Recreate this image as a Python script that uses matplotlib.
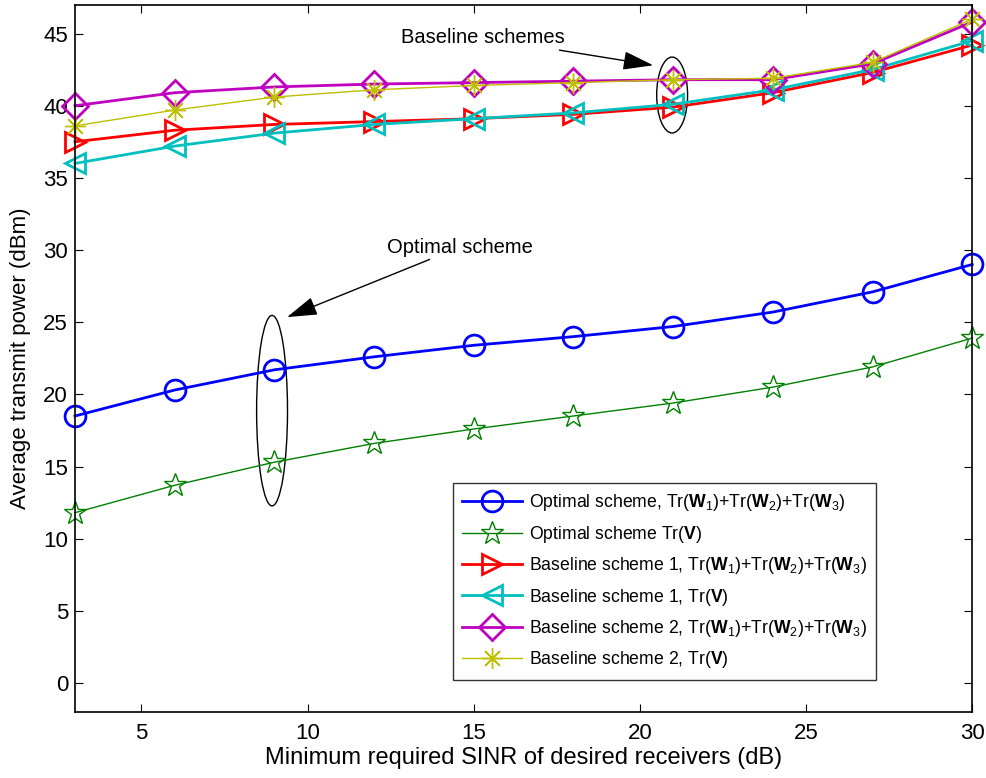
import matplotlib
matplotlib.use('Agg')
import matplotlib.pyplot as plt
from matplotlib.patches import Ellipse
import numpy as np

plt.rcParams['font.family'] = ['Liberation Sans', 'DejaVu Sans']
plt.rcParams['mathtext.fontset'] = 'custom'
plt.rcParams['mathtext.rm'] = 'Liberation Sans'
plt.rcParams['mathtext.it'] = 'Liberation Sans:italic'
plt.rcParams['mathtext.bf'] = 'Liberation Sans:bold'

# SINR targets (dB)
sinr = [3, 6, 9, 12, 15, 18, 21, 24, 27, 30]

# average transmit power (dBm)
opt_w = [18.5, 20.3, 21.7, 22.6, 23.4, 24.0, 24.7, 25.7, 27.1, 29.0]
opt_v = [11.8, 13.7, 15.3, 16.6, 17.6, 18.5, 19.4, 20.5, 21.9, 23.9]
base1_w = [37.5, 38.3, 38.7, 38.9, 39.1, 39.4, 39.9, 40.9, 42.3, 44.2]
base1_v = [36.0, 37.2, 38.1, 38.7, 39.1, 39.5, 40.1, 41.1, 42.5, 44.5]
base2_w = [40.0, 40.9, 41.3, 41.5, 41.6, 41.7, 41.8, 41.8, 42.9, 45.8]
base2_v = [38.6, 39.7, 40.6, 41.1, 41.4, 41.6, 41.8, 41.9, 43.0, 46.0]

sum_w = r'Tr($\mathbf{W}_1$)+Tr($\mathbf{W}_2$)+Tr($\mathbf{W}_3$)'
tr_v = r'Tr($\mathbf{V}$)'

fig = plt.figure(figsize=(9.87, 7.78), dpi=100)
ax = fig.add_axes([0.076, 0.085, 0.909, 0.909])

style = dict(mfc='none', clip_on=False)
ax.plot(sinr, opt_w, color='b', lw=2, marker='o', ms=15, mew=2,
        label='Optimal scheme, ' + sum_w, **style)
ax.plot(sinr, opt_v, color=(0, 0.5, 0), lw=1, marker='*', ms=17, mew=1,
        label='Optimal scheme ' + tr_v, **style)
ax.plot(sinr, base1_w, color='r', lw=2, marker='>', ms=15, mew=2,
        label='Baseline scheme 1, ' + sum_w, **style)
ax.plot(sinr, base1_v, color=(0, 0.75, 0.75), lw=2, marker='<', ms=15, mew=2,
        label='Baseline scheme 1, ' + tr_v, **style)
ax.plot(sinr, base2_w, color=(0.75, 0, 0.75), lw=2, marker='D', ms=13, mew=2,
        label='Baseline scheme 2, ' + sum_w, **style)
ax.plot(sinr, base2_v, color=(0.75, 0.75, 0), lw=1, marker=(8, 2, 0), ms=15, mew=1,
        label='Baseline scheme 2, ' + tr_v, **style)

ax.set_xlim(3, 30)
ax.set_ylim(-2, 47)
ax.set_xticks([5, 10, 15, 20, 25, 30])
ax.set_yticks(np.arange(0, 46, 5))
ax.tick_params(direction='in', top=True, right=True, labelsize=16, length=6)
ax.tick_params(axis='x', pad=8)
ax.tick_params(axis='y', pad=5)
for s in ax.spines.values():
    s.set_linewidth(1.2)

ax.set_xlabel('Minimum required SINR of desired receivers (dB)', fontsize=17, labelpad=2)
ax.set_ylabel('Average transmit power (dBm)', fontsize=16, labelpad=9)

# circled groups with pointing arrows
ax.add_patch(Ellipse((20.97, 40.74), 0.93, 5.26, fill=False, ec='k', lw=1))
ax.add_patch(Ellipse((8.93, 18.87), 0.93, 13.2, fill=False, ec='k', lw=1))
arrow = dict(arrowstyle='-|>,head_length=1.3,head_width=0.4', color='k', lw=1,
             shrinkA=0, shrinkB=0)
ax.annotate('Baseline schemes', xy=(20.4, 42.8), xytext=(17.75, 44.7),
            fontsize=14.5, ha='right', va='center', arrowprops=arrow)
ax.annotate('Optimal scheme', xy=(9.38, 25.35), xytext=(12.39, 30.2),
            fontsize=14.5, ha='left', va='center', arrowprops=arrow)

leg = ax.legend(loc='upper left', bbox_to_anchor=(0.421, 0.324), fontsize=12.7,
                frameon=True, fancybox=False, edgecolor='k', handlelength=3.4,
                handletextpad=0.35, labelspacing=0.59, borderpad=0.55,
                borderaxespad=0)
leg.get_frame().set_linewidth(1)

fig.savefig('out.png', dpi=100)
